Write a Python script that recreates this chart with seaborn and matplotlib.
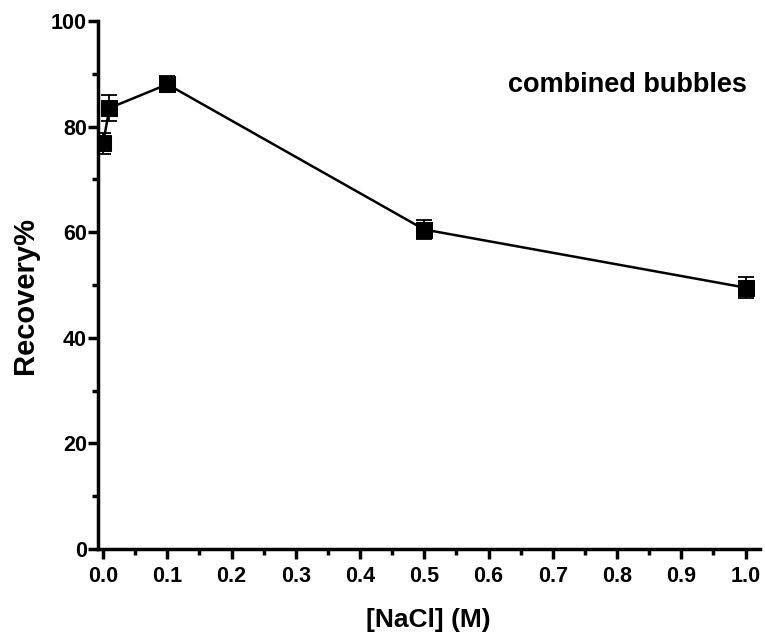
import matplotlib
matplotlib.use("Agg")
import matplotlib.pyplot as plt
import seaborn as sns
import numpy as np
import pandas as pd
from matplotlib.ticker import MultipleLocator

nacl = [0.0, 0.01, 0.1, 0.5, 1.0]
recovery = [76.8, 83.5, 88.0, 60.5, 49.5]
err = [2.0, 2.5, 1.5, 1.8, 2.0]
xticks = [0.0, 0.1, 0.2, 0.3, 0.4, 0.5, 0.6, 0.7, 0.8, 0.9, 1.0]
xtick_labels = ["0.0", "0.1", "0.2", "0.3", "0.4", "0.5", "0.6", "0.7", "0.8", "0.9", "1.0"]

sns.set_style("ticks")
plt.rcParams['font.family'] = ['Liberation Sans', 'DejaVu Sans']
plt.rcParams['font.weight'] = 'bold'
plt.rcParams['text.color'] = 'black'
plt.rcParams['axes.labelcolor'] = 'black'
plt.rcParams['xtick.color'] = 'black'
plt.rcParams['ytick.color'] = 'black'

fig = plt.figure(figsize=(7.65, 6.34), dpi=100)
ax = fig.add_axes([0.128, 0.134, 0.865, 0.833])

df = pd.DataFrame({"x": nacl, "y": recovery})
ax.errorbar(nacl, recovery, yerr=err, fmt='none', ecolor='black', elinewidth=1.3, capsize=6, capthick=1.3, zorder=2)
sns.lineplot(data=df, x="x", y="y", ax=ax, color='black', linewidth=1.8, marker='s', markersize=11,
             markeredgecolor='black', markerfacecolor='black', zorder=3)

ax.set_xlim(-0.008, 1.022)
ax.set_ylim(0, 100)
ax.xaxis.set_minor_locator(MultipleLocator(0.05))
ax.yaxis.set_major_locator(MultipleLocator(20))
ax.yaxis.set_minor_locator(MultipleLocator(10))
ax.set_xticks(xticks)
ax.set_xticklabels(xtick_labels)

for s in ['top', 'right']:
    ax.spines[s].set_visible(False)
for s in ['left', 'bottom']:
    ax.spines[s].set_linewidth(2.5)
    ax.spines[s].set_color('black')

ax.tick_params(which='major', direction='out', length=7, width=2.5, labelsize=15.5, colors='black', pad=5)
ax.tick_params(axis='y', which='major', pad=1)
ax.tick_params(which='minor', direction='out', length=4, width=2.5, colors='black')
for lab in ax.get_xticklabels() + ax.get_yticklabels():
    lab.set_fontweight('bold')

ax.set_xlabel("[NaCl] (M)", fontsize=19, fontweight='bold', labelpad=15, color='black')
ax.set_ylabel("Recovery%", fontsize=21, fontweight='bold', labelpad=8, color='black')
ax.yaxis.set_label_coords(-0.089, 0.48)

ax.text(0.98, 0.879, "combined bubbles", transform=ax.transAxes, ha='right', va='center',
        fontsize=19.5, fontweight='bold', color='black')

fig.savefig("out.png", dpi=100)
